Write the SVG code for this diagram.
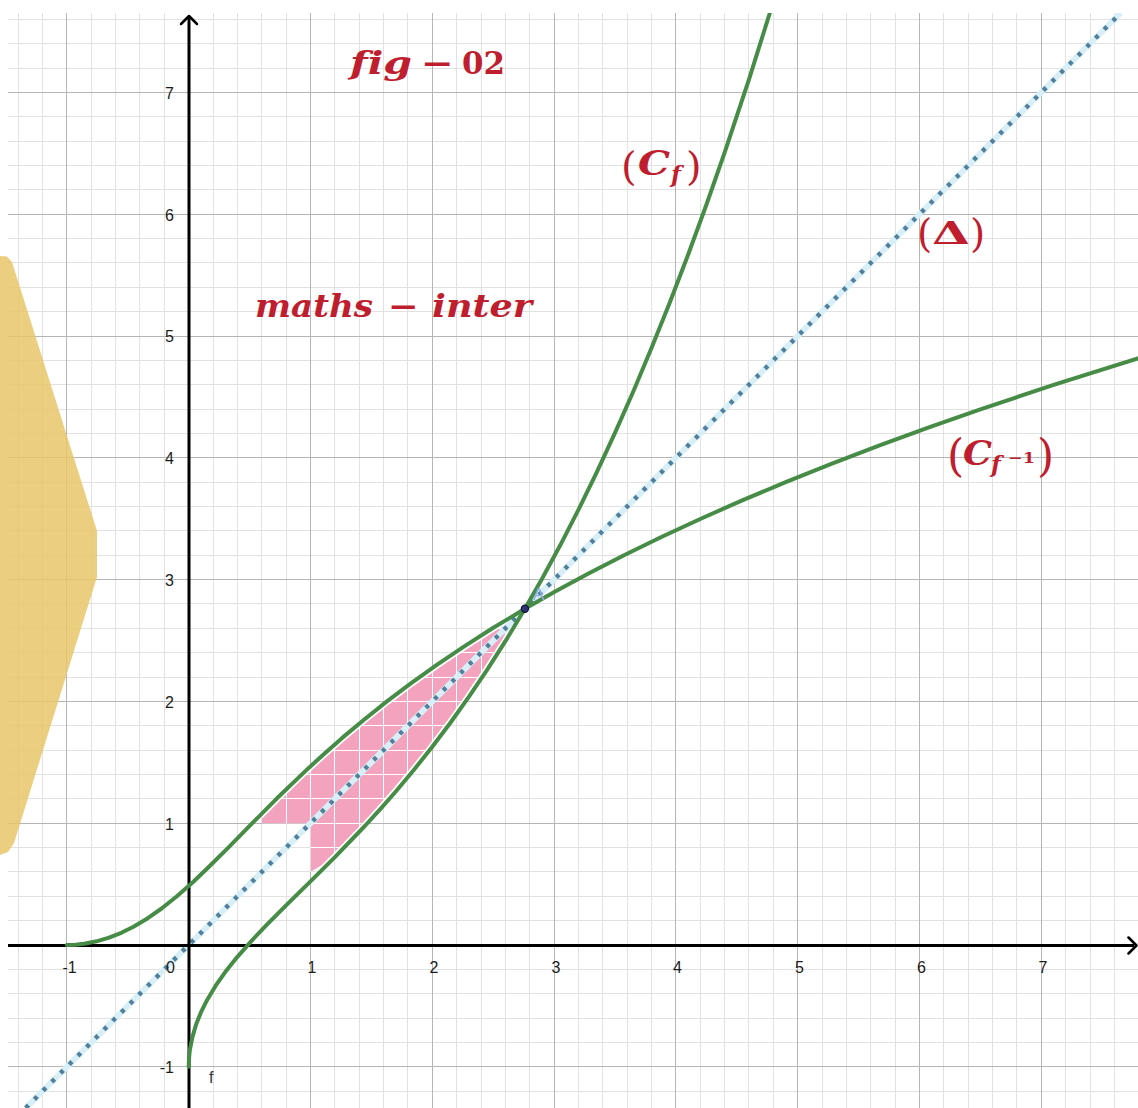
<svg xmlns="http://www.w3.org/2000/svg" width="1138" height="1108" viewBox="0 0 1138 1108">
<defs>
<style>
.minor{stroke:#e2e2e2;stroke-width:1;fill:none}
.major{stroke:#b5b5b5;stroke-width:1;fill:none}
.pinkgrid{stroke:#ffffff;stroke-width:1;fill:none}
.curve{fill:none;stroke:#468c46;stroke-width:4;stroke-linejoin:round;stroke-linecap:round}
.halo{fill:none;stroke:#ffffff;stroke-width:7.5;stroke-linejoin:round}
.axis{stroke:#000;stroke-width:3;fill:none}
.arrow{stroke:#000;stroke-width:2.5;fill:none;stroke-linecap:round;stroke-linejoin:round}
.tick{font-family:"Liberation Sans",Arial,sans-serif;font-size:16px;fill:#1c1c1c}
.red{font-family:"DejaVu Serif","Liberation Serif",serif;fill:#bf1e2e;font-weight:bold;font-variant-ligatures:none}
.paren{font-weight:normal}
</style>
<clipPath id="plot"><rect x="8" y="13" width="1130" height="1095"/></clipPath>
<clipPath id="pinkclip"><path d="M262 823.2 L310.5 823.2 L310.5 872 L334.9 857.2 L365.3 825.5 L380.5 808.8 L395.8 791.5 L414.0 769.7 L432.3 746.8 L450.6 722.5 L468.8 696.9 L487.1 669.8 L505.4 641.2 L524.9 608.8 L492.5 628.3 L463.9 646.6 L436.8 664.9 L411.2 683.1 L386.9 701.4 L364.0 719.7 L342.2 737.9 L324.9 753.2 L308.2 768.4 L276.5 798.8 L262 813.4 Z"/></clipPath>
</defs>
<rect x="0" y="0" width="1138" height="1108" fill="#ffffff"/>

<g id="grid" clip-path="url(#plot)">
<path class="minor" d="M18.5 13V1108M42.5 13V1108M91.5 13V1108M115.5 13V1108M139.5 13V1108M164.5 13V1108M213.5 13V1108M237.5 13V1108M261.5 13V1108M286.5 13V1108M334.5 13V1108M359.5 13V1108M383.5 13V1108M407.5 13V1108M456.5 13V1108M481.5 13V1108M505.5 13V1108M529.5 13V1108M578.5 13V1108M602.5 13V1108M627.5 13V1108M651.5 13V1108M700.5 13V1108M724.5 13V1108M748.5 13V1108M773.5 13V1108M822.5 13V1108M846.5 13V1108M870.5 13V1108M895.5 13V1108M943.5 13V1108M968.5 13V1108M992.5 13V1108M1016.5 13V1108M1065.5 13V1108M1090.5 13V1108M1114.5 13V1108"/>
<path class="minor" d="M8 19.5H1138M8 43.5H1138M8 68.5H1138M8 116.5H1138M8 141.5H1138M8 165.5H1138M8 189.5H1138M8 238.5H1138M8 262.5H1138M8 287.5H1138M8 311.5H1138M8 360.5H1138M8 384.5H1138M8 409.5H1138M8 433.5H1138M8 482.5H1138M8 506.5H1138M8 530.5H1138M8 555.5H1138M8 603.5H1138M8 628.5H1138M8 652.5H1138M8 677.5H1138M8 725.5H1138M8 750.5H1138M8 774.5H1138M8 798.5H1138M8 847.5H1138M8 871.5H1138M8 896.5H1138M8 920.5H1138M8 969.5H1138M8 993.5H1138M8 1018.5H1138M8 1042.5H1138M8 1091.5H1138"/>
<path class="major" d="M66.5 13V1108M310.5 13V1108M432.5 13V1108M554.5 13V1108M675.5 13V1108M797.5 13V1108M919.5 13V1108M1041.5 13V1108"/>
<path class="major" d="M8 92.5H1138M8 214.5H1138M8 336.5H1138M8 457.5H1138M8 579.5H1138M8 701.5H1138M8 823.5H1138M8 1066.5H1138"/>
</g>

<g id="yellow-region">
<path d="M0 256 L7 256.5 L12 262 L97 531 L97 577 L14 843 L8 852 L0 855 Z" fill="#e8c668" fill-opacity="0.85"/>
</g>

<g id="pink-region">
<path d="M262 823.2 L310.5 823.2 L310.5 872 L334.9 857.2 L365.3 825.5 L380.5 808.8 L395.8 791.5 L414.0 769.7 L432.3 746.8 L450.6 722.5 L468.8 696.9 L487.1 669.8 L505.4 641.2 L524.9 608.8 L492.5 628.3 L463.9 646.6 L436.8 664.9 L411.2 683.1 L386.9 701.4 L364.0 719.7 L342.2 737.9 L324.9 753.2 L308.2 768.4 L276.5 798.8 L262 813.4 Z" fill="#f4a3bf"/>
<g clip-path="url(#pinkclip)">
<path class="pinkgrid" d="M286.5 600V880M310.5 600V880M334.5 600V880M359.5 600V880M383.5 600V880M407.5 600V880M432.5 600V880M456.5 600V880M481.5 600V880M505.5 600V880M255 628.5H530M255 652.5H530M255 677.5H530M255 701.5H530M255 725.5H530M255 750.5H530M255 774.5H530M255 798.5H530M255 823.5H530M255 847.5H530M255 871.5H530"/>
<path class="halo" d="M310.5 881.4 L334.9 857.2 365.3 825.5 380.5 808.8 395.8 791.5 414.0 769.7 432.3 746.8 450.6 722.5 468.8 696.9 487.1 669.8 505.4 641.2 524.9 608.8 541.9 579.0"/>
<path class="halo" d="M228.3 847.6 L252.3 823.2 276.5 798.8 308.2 768.4 324.9 753.2 342.2 737.9 364.0 719.7 386.9 701.4 411.2 683.1 436.8 664.9 463.9 646.6 492.5 628.3 524.9 608.8 554.7 591.8"/>
</g>
</g>

<g id="line-delta" clip-path="url(#plot)">
<path d="M25.7 1108 L1120.7 13" fill="none" stroke="#d9eff7" stroke-width="6"/>
<path d="M25.7 1108 L1120.7 13" fill="none" stroke="#52809c" stroke-width="4.5" stroke-dasharray="4 8.3"/>
</g>

<g id="axes">
<path class="axis" d="M8 945.5H1134"/>
<path class="arrow" d="M1128.5 937.5L1136.5 945.5L1128.5 953.5"/>
<path class="axis" d="M189 1108V17"/>
<path class="arrow" d="M181 24L189 16L197 24"/>
<g class="tick">
<text x="69.5" y="973" text-anchor="middle">-1</text>
<text x="175" y="973" text-anchor="end">0</text>
<text x="312" y="973" text-anchor="middle">1</text>
<text x="434" y="973" text-anchor="middle">2</text>
<text x="556" y="973" text-anchor="middle">3</text>
<text x="677.5" y="973" text-anchor="middle">4</text>
<text x="799.5" y="973" text-anchor="middle">5</text>
<text x="921.5" y="973" text-anchor="middle">6</text>
<text x="1043" y="973" text-anchor="middle">7</text>
<text x="174" y="98.5" text-anchor="end">7</text>
<text x="174" y="220.5" text-anchor="end">6</text>
<text x="174" y="342" text-anchor="end">5</text>
<text x="174" y="464" text-anchor="end">4</text>
<text x="174" y="586" text-anchor="end">3</text>
<text x="174" y="707.5" text-anchor="end">2</text>
<text x="174" y="829.5" text-anchor="end">1</text>
<text x="174" y="1073" text-anchor="end">-1</text>
</g>
</g>

<g id="curves" clip-path="url(#plot)">
<path id="curve-f" class="curve" d="M188.7 1066.8 L189.0 1058.2 189.9 1049.6 192.4 1037.1 196.0 1024.7 200.9 1012.4 207.0 1000.2 215.5 985.9 225.2 972.1 237.4 956.8 252.0 940.3 267.9 923.7 286.1 905.4 310.5 881.4 334.9 857.2 365.3 825.5 380.5 808.8 395.8 791.5 414.0 769.7 432.3 746.8 450.6 722.5 468.8 696.9 487.1 669.8 505.4 641.2 524.9 608.8 541.9 579.0 560.2 545.3 578.5 509.7 596.7 472.3 615.0 432.9 633.3 391.5 651.5 348.0 669.8 302.4 688.1 254.8 706.4 204.8 724.6 152.6 749.0 79.3 775.8 -6.0"/>
<path id="curve-finv" class="curve" d="M66.9 945.0 L75.5 944.7 84.1 943.8 96.6 941.3 109.0 937.7 121.3 932.8 133.5 926.7 147.8 918.2 161.6 908.5 176.9 896.3 193.4 881.7 210.0 865.8 228.3 847.6 252.3 823.2 276.5 798.8 308.2 768.4 324.9 753.2 342.2 737.9 364.0 719.7 386.9 701.4 411.2 683.1 436.8 664.9 463.9 646.6 492.5 628.3 524.9 608.8 554.7 591.8 588.5 573.5 624.0 555.2 661.4 537.0 700.8 518.7 742.2 500.4 785.7 482.2 831.3 463.9 878.9 445.6 928.9 427.4 981.1 409.1 1054.4 384.7 1139.7 357.9"/>
</g>

<g id="point-A">
<circle cx="524.9" cy="608.8" r="3.6" fill="#2e3470" stroke="#10143a" stroke-width="1.2"/>
<text x="533" y="600" font-family="Liberation Sans,Arial,sans-serif" font-size="17" fill="#9aaee0">A</text>
</g>

<g id="label-f-name">
<text x="209" y="1083" font-family="Liberation Sans,Arial,sans-serif" font-size="16" fill="#333333">f</text>
</g>

<g id="label-fig02" class="red">
<text x="350" y="73.5" font-size="31" font-style="italic" textLength="62" lengthAdjust="spacingAndGlyphs">fig</text>
<text x="421" y="73.5" font-size="31" textLength="33" lengthAdjust="spacingAndGlyphs">−</text>
<text x="462" y="73.5" font-size="31" textLength="43" lengthAdjust="spacingAndGlyphs">02</text>
</g>

<g id="label-maths-inter" class="red">
<text x="255" y="316.7" font-size="31" font-style="italic" textLength="118" lengthAdjust="spacingAndGlyphs">maths</text>
<text x="388" y="316.7" font-size="31" textLength="31" lengthAdjust="spacingAndGlyphs">−</text>
<text x="432" y="316.7" font-size="31" font-style="italic" textLength="100" lengthAdjust="spacingAndGlyphs">inter</text>
</g>

<g id="label-Cf" class="red">
<text class="paren" x="621" y="180" font-size="40">(</text>
<text x="638" y="175" font-size="34" font-style="italic" textLength="32" lengthAdjust="spacingAndGlyphs">C</text>
<text x="671" y="182" font-size="23" font-style="italic">f</text>
<text class="paren" x="686" y="180" font-size="40">)</text>
</g>

<g id="label-Delta" class="red">
<text class="paren" x="917" y="247" font-size="39">(</text>
<text x="932" y="244" font-size="32" textLength="38" lengthAdjust="spacingAndGlyphs">Δ</text>
<text class="paren" x="970" y="247" font-size="39">)</text>
</g>

<g id="label-Cfinv" class="red">
<text class="paren" x="947" y="471" font-size="44">(</text>
<text x="963" y="465" font-size="34" font-style="italic" textLength="29" lengthAdjust="spacingAndGlyphs">C</text>
<text x="991" y="472" font-size="23" font-style="italic">f</text>
<text x="1008" y="463" font-size="15" textLength="27" lengthAdjust="spacingAndGlyphs">−1</text>
<text class="paren" x="1037" y="471" font-size="44">)</text>
</g>
</svg>
